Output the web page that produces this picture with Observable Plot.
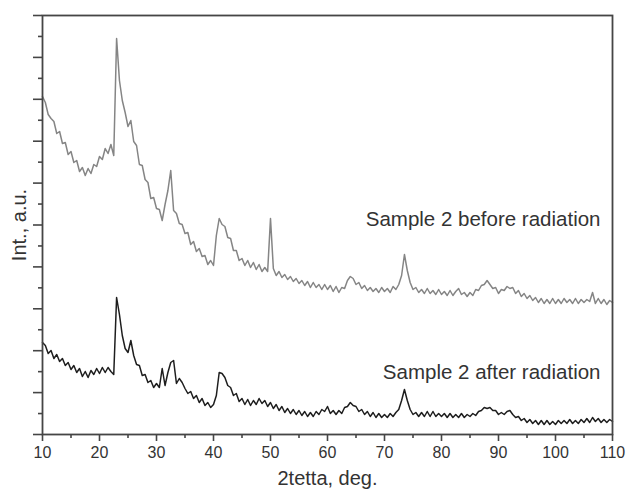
<!DOCTYPE html>
<html>
<head>
<meta charset="utf-8">
<script src="https://cdn.jsdelivr.net/npm/d3@7"></script>
<script src="https://cdn.jsdelivr.net/npm/@observablehq/plot@0.6"></script>
<style>
  html, body { margin: 0; padding: 0; background: #ffffff; }
  #chart { width: 628px; height: 491px; }
</style>
</head>
<body>
<div id="chart"></div>
<script>
// 2θ grid of the recorded patterns (deg), 10 … 110 every 0.5
const thetaStart = 10, thetaStep = 0.5, thetaCount = 201;
const twoTheta = d3.range(thetaCount).map(i => thetaStart + i * thetaStep);

// Intensity (a.u.), sample 2 before radiation
const beforeRadiation = [
  338, 332, 320, 316, 313, 301, 303, 291, 292, 280,
  283, 272, 274, 263, 267, 259, 266, 261, 270, 268,
  278, 275, 286, 281, 290, 279, 396, 354, 334, 322,
  308, 314, 293, 289, 270, 269, 255, 252, 236, 237,
  226, 225, 214, 230, 244, 264, 224, 221, 211, 210,
  201, 202, 190, 193, 183, 186, 178, 179, 170, 174,
  169, 199, 216, 210, 208, 197, 196, 184, 184, 174,
  176, 169, 174, 167, 172, 165, 170, 163, 167, 163,
  216, 166, 159, 163, 157, 160, 155, 158, 153, 156,
  151, 154, 149, 153, 147, 152, 147, 150, 145, 150,
  145, 149, 143, 148, 142, 147, 146, 154, 158, 156,
  150, 152, 146, 149, 144, 147, 143, 146, 142, 147,
  143, 146, 142, 148, 145, 150, 159, 180, 164, 152,
  145, 147, 142, 145, 141, 146, 141, 144, 140, 145,
  140, 143, 139, 144, 139, 143, 146, 140, 142, 138,
  142, 139, 145, 144, 149, 150, 154, 150, 146, 147,
  141, 145, 144, 148, 146, 147, 141, 144, 138, 141,
  136, 139, 134, 137, 132, 136, 131, 135, 131, 136,
  131, 135, 131, 136, 132, 135, 131, 136, 131, 135,
  132, 135, 133, 142, 131, 136, 131, 135, 130, 134,
  132
];

// Intensity (a.u.), sample 2 after radiation
const afterRadiation = [
  92, 89, 81, 84, 76, 80, 73, 76, 69, 72,
  65, 69, 62, 66, 58, 63, 57, 64, 60, 66,
  61, 67, 62, 67, 63, 60, 137, 120, 99, 86,
  82, 94, 79, 70, 69, 59, 60, 52, 54, 47,
  51, 47, 66, 49, 62, 72, 74, 51, 56, 52,
  46, 41, 43, 36, 39, 32, 36, 29, 32, 27,
  30, 39, 62, 61, 57, 49, 47, 39, 41, 33,
  36, 30, 35, 29, 34, 30, 36, 31, 34, 28,
  32, 26, 30, 24, 28, 22, 26, 21, 25, 20,
  24, 19, 23, 18, 22, 18, 23, 20, 25, 23,
  28, 21, 24, 20, 24, 21, 27, 28, 32, 29,
  28, 23, 25, 20, 23, 18, 22, 17, 21, 17,
  20, 17, 21, 18, 22, 25, 34, 45, 34, 25,
  20, 22, 18, 22, 18, 23, 18, 23, 18, 21,
  18, 21, 17, 21, 17, 20, 17, 21, 17, 20,
  18, 21, 19, 23, 24, 27, 26, 27, 24, 24,
  20, 22, 20, 23, 24, 20, 17, 18, 14, 16,
  12, 15, 11, 14, 10, 14, 10, 14, 10, 13,
  10, 14, 11, 14, 11, 15, 11, 14, 11, 15,
  12, 16, 12, 17, 13, 16, 12, 15, 12, 15,
  13
];

const seriesNames = ["Sample 2 before radiation", "Sample 2 after radiation"];
const xTicks = [10, 20, 30, 40, 50, 60, 70, 80, 90, 100, 110];
const xMinorTicks = [15, 25, 35, 45, 55, 65, 75, 85, 95, 105];
const xLabel = "2tetta, deg.";
const yLabel = "Int., a.u.";
const yMax = 419;          // top of the intensity axis (a.u.)
const yDivision = 41.9;    // a.u. per major division (no tick labels)
const yMajorTicks = d3.range(0, 11).map(k => k * yDivision);
const yMinorTicks = d3.range(0, 10).map(k => (k + 0.5) * yDivision);

const beforeRows = twoTheta.map((t, i) => ({t, v: beforeRadiation[i]}));
const afterRows = twoTheta.map((t, i) => ({t, v: afterRadiation[i]}));
const last = twoTheta.length - 1;
const labelRows = [
  {t: twoTheta[last], v: beforeRadiation[last], name: seriesNames[0], dy: -83},
  {t: twoTheta[last], v: afterRadiation[last], name: seriesNames[1], dy: -49}
];

const axisColor = "#454545";
const textColor = "#333333";

const chart = Plot.plot({
  width: 628,
  height: 491,
  marginTop: 15,
  marginBottom: 57,
  marginLeft: 42,
  marginRight: 16,
  x: {domain: [10, 110]},
  y: {domain: [0, yMax]},
  style: {fontFamily: "'Liberation Sans', Arial, sans-serif", background: "#ffffff", color: textColor},
  marks: [
    Plot.line(beforeRows, {x: "t", y: "v", stroke: "#858585", strokeWidth: 1.5}),
    Plot.line(afterRows, {x: "t", y: "v", stroke: "#1e1e1e", strokeWidth: 1.5}),
    Plot.frame({stroke: axisColor, strokeWidth: 1.8}),
    Plot.axisX({ticks: xTicks, tickSize: 7, tickPadding: 5, fontSize: 16, label: null,
                tickFormat: d => String(d), stroke: axisColor, strokeWidth: 1.6, fill: textColor}),
    Plot.axisX({ticks: xMinorTicks, tickSize: 4, text: null, label: null,
                stroke: axisColor, strokeWidth: 1.6}),
    Plot.axisY({ticks: yMajorTicks, tickSize: 9, text: null, label: null,
                stroke: axisColor, strokeWidth: 1.6}),
    Plot.axisY({ticks: yMinorTicks, tickSize: 4, text: null, label: null,
                stroke: axisColor, strokeWidth: 1.6}),
    Plot.text([xLabel], {frameAnchor: "bottom", dy: 44, text: d => d, fontSize: 20,
                         textAnchor: "middle", lineAnchor: "middle", fill: textColor}),
    Plot.text([yLabel], {frameAnchor: "left", dx: -23, rotate: -90, text: d => d, fontSize: 20,
                         textAnchor: "middle", lineAnchor: "middle", fill: textColor}),
    Plot.text([labelRows[0]], {x: "t", y: "v", text: "name", dx: -12, dy: labelRows[0].dy,
                               fontSize: 20.5, textAnchor: "end", lineAnchor: "middle", fill: textColor}),
    Plot.text([labelRows[1]], {x: "t", y: "v", text: "name", dx: -12, dy: labelRows[1].dy,
                               fontSize: 20.5, textAnchor: "end", lineAnchor: "middle", fill: textColor})
  ]
});

document.getElementById("chart").appendChild(chart);
</script>
</body>
</html>
